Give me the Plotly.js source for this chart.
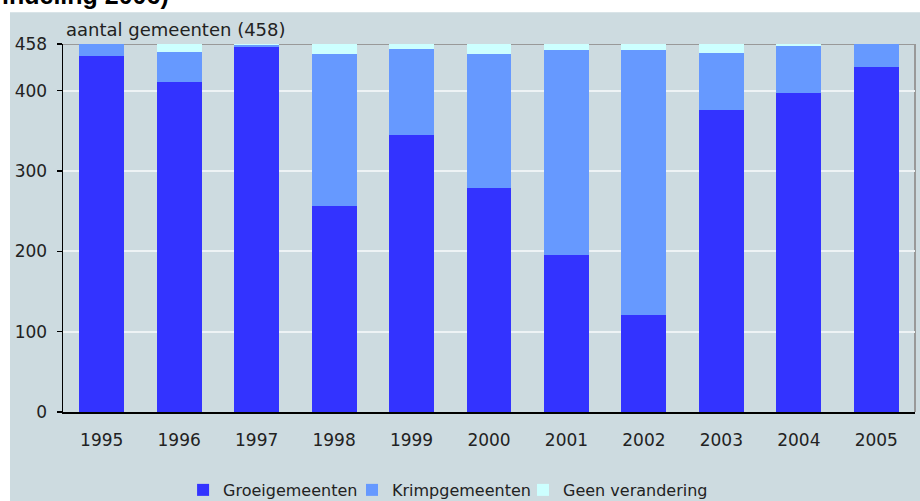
<!DOCTYPE html>
<html>
<head>
<meta charset="utf-8">
<script src="https://cdn.plot.ly/plotly-3.0.1.min.js"></script>
<style>html,body{margin:0;padding:0;background:#fff;}#chart{width:920px;height:501px;}</style>
</head>
<body>
<div id="chart"></div>
<script>
const years = ['1995','1996','1997','1998','1999','2000','2001','2002','2003','2004','2005'];
const groei = [443, 411, 454, 257, 345, 279, 196, 121, 376, 397, 430];
const krimp = [15, 37, 3, 189, 107, 167, 254, 330, 71, 58, 28];
const geen = [0, 10, 1, 12, 6, 12, 8, 7, 11, 3, 0];
const yTicks = [0, 100, 200, 300, 400, 458];
const yTickLabels = ['0', '100', '200', '300', '400', '458'];

const FONT = 'DejaVu Sans, Liberation Sans, Arial, sans-serif';
const BG = '#cddbe0';

const traces = [
  {type: 'bar', name: 'Groeigemeenten', x: years, y: groei, marker: {color: '#3333ff'}, legend: 'legend'},
  {type: 'bar', name: 'Krimpgemeenten', x: years, y: krimp, marker: {color: '#6699ff'}, legend: 'legend2'},
  {type: 'bar', name: 'Geen verandering', x: years, y: geen, marker: {color: '#ccffff'}, legend: 'legend3'}
];

const legendFont = {family: FONT, size: 16, color: '#222222'};
function legendAt(xFrac) {
  return {
    orientation: 'h', xref: 'container', yref: 'container',
    x: xFrac, xanchor: 'left', y: 0.022, yanchor: 'middle',
    bgcolor: 'rgba(0,0,0,0)', font: legendFont, itemwidth: 30
  };
}

const layout = {
  width: 920, height: 501,
  margin: {l: 63, r: 5, t: 44, b: 89},
  paper_bgcolor: '#ffffff',
  plot_bgcolor: BG,
  barmode: 'stack',
  bargap: 0.42,
  font: {family: FONT, size: 17, color: '#222222'},
  showlegend: true,
  legend: legendAt(0.199),
  legend2: legendAt(0.3826),
  legend3: legendAt(0.5685),
  xaxis: {
    type: 'category', showgrid: false, zeroline: false,
    showline: true, linecolor: '#000000', linewidth: 1.5,
    ticks: '', ticklabelstandoff: 12,
    tickfont: {family: FONT, size: 17, color: '#222222'}
  },
  yaxis: {
    range: [0, 458], tickmode: 'array', tickvals: yTicks, ticktext: yTickLabels,
    showgrid: true, gridcolor: '#eef3f5', gridwidth: 2,
    zeroline: false, showline: true, linecolor: '#000000', linewidth: 1.5,
    ticks: 'outside', ticklen: 5, tickcolor: '#000000', tickwidth: 1.5,
    ticklabelstandoff: 6,
    tickfont: {family: FONT, size: 17, color: '#222222'}
  },
  shapes: [
    {type: 'rect', xref: 'paper', yref: 'paper', x0: -0.0622, x1: 1.0059, y0: -0.2418, y1: 1.086,
     fillcolor: BG, line: {width: 0}, layer: 'below'},
    {type: 'line', xref: 'paper', yref: 'y', x0: 0, x1: 1, y0: 458, y1: 458,
     line: {color: '#999999', width: 2}, layer: 'below'},
    {type: 'line', xref: 'paper', yref: 'y', x0: 1, x1: 1, y0: 0, y1: 458,
     line: {color: '#999999', width: 2}, layer: 'below'}
  ],
  annotations: [
    {text: 'aantal gemeenten (458)', xref: 'paper', yref: 'paper', x: 0.001, y: 1.005,
     xanchor: 'left', yanchor: 'bottom', showarrow: false,
     font: {family: FONT, size: 18, color: '#222222'}},
    {text: '<b>indeling 2006)</b>', xref: 'paper', yref: 'paper', x: -0.074, y: 1.091,
     xanchor: 'left', yanchor: 'bottom', showarrow: false,
     font: {family: 'Liberation Sans, Arial, sans-serif', size: 25, color: '#000000'}}
  ]
};

Plotly.newPlot('chart', traces, layout, {displayModeBar: false, staticPlot: true});
</script>
</body>
</html>
